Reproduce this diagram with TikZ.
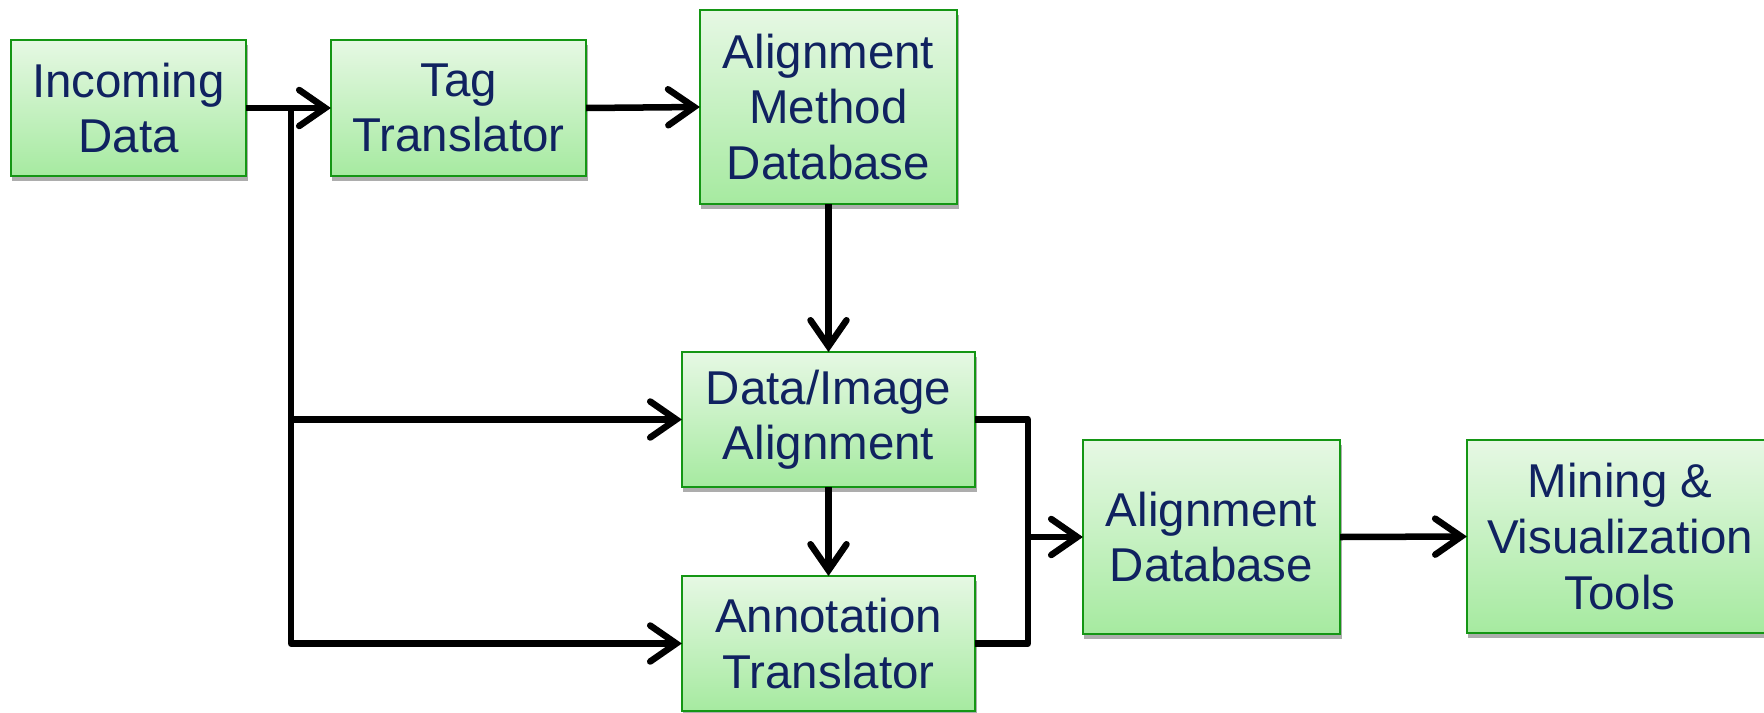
\documentclass[tikz,border=0pt]{standalone}
\usepackage{fontspec}
\setmainfont{Liberation Sans}
\usetikzlibrary{arrows.meta,shadows}
\definecolor{boxline}{RGB}{20,150,20}
\definecolor{boxtop}{RGB}{230,248,228}
\definecolor{boxbot}{RGB}{166,234,160}
\definecolor{boxtext}{RGB}{16,34,96}
\tikzset{
  stage/.style={draw=boxline, line width=0.02cm, top color=boxtop, bottom color=boxbot,
    text=boxtext, align=center, inner sep=0pt, outer sep=0pt,
    font=\fontsize{13.5pt}{15.8pt}\selectfont,
    drop shadow={shadow xshift=0.015cm, shadow yshift=-0.05cm, fill=black!32, opacity=1}},
  flow/.style={line width=0.065cm, line join=round,
    -{Straight Barb[length=0.26cm, width=0.36cm, line cap=round]}},
  wire/.style={line width=0.065cm, line join=round}
}
\begin{document}
\begin{tikzpicture}[x=0.01cm, y=-0.01cm]
\useasboundingbox (0,0) rectangle (1764,712);
% boxes
\node[stage, minimum width=2.35cm, minimum height=1.36cm] (data) at (128.5,108) {Incoming\\Data};
\node[stage, minimum width=2.55cm, minimum height=1.36cm] (tag) at (458.5,108) {Tag\\Translator};
\node[stage, minimum width=2.57cm, minimum height=1.94cm] (amd) at (828.5,107) {Alignment\\Method\\Database};
\node[stage, minimum width=2.93cm, minimum height=1.35cm] (dia) at (828.5,419.5) {Data/Image\\Alignment};
\node[stage, minimum width=2.93cm, minimum height=1.35cm] (ann) at (828.5,643.5) {Annotation\\Translator};
\node[stage, minimum width=2.57cm, minimum height=1.94cm] (adb) at (1211.5,537) {Alignment\\Database};
\node[stage, minimum width=3.06cm, minimum height=1.93cm] (mvt) at (1620,536.5) {Mining \&\\Visualization\\Tools};
% connectors
\coordinate (split) at (291,108);
\coordinate (merge) at (1028,537);
\draw[flow] (data.east) -- (tag.west);
\draw[flow] (tag.east) -- (amd.west);
\draw[flow] (split) |- (dia.west);
\draw[flow] (split) |- (ann.west);
\draw[flow] (amd.south) -- (dia.north);
\draw[flow] (dia.south) -- (ann.north);
\draw[wire] (dia.east) -| (merge);
\draw[wire] (ann.east) -| (merge);
\draw[flow] (merge) -- (adb.west);
\draw[flow] (adb.east) -- (mvt.west);
\end{tikzpicture}
\end{document}
